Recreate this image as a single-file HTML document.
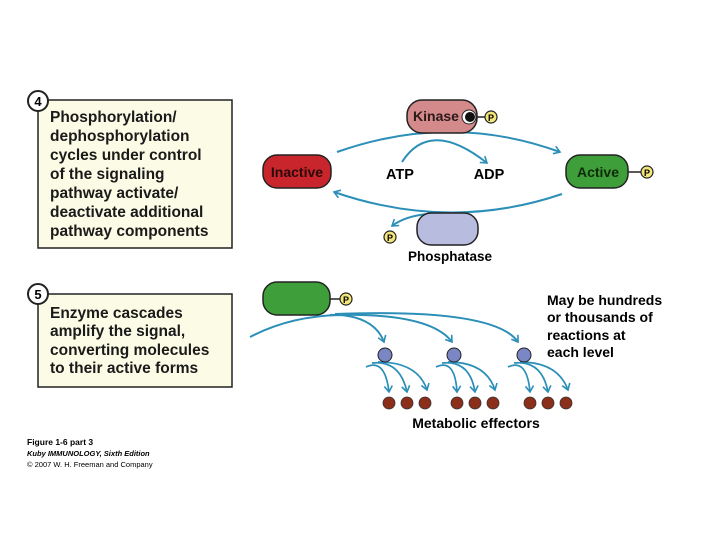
<!DOCTYPE html>
<html><head><style>
body{margin:0;background:#fff}
svg{display:block}
text{font-family:"Liberation Sans",sans-serif}
</style></head><body>
<svg width="720" height="540" viewBox="0 0 720 540">
<defs>
<marker id="ah" markerWidth="10" markerHeight="10" refX="7" refY="5" orient="auto" markerUnits="userSpaceOnUse">
<path d="M1,1 L7,5 L1,9" fill="none" stroke="#2b8fb8" stroke-width="1.6"/>
</marker>
</defs>
<!-- Box 4 -->
<rect x="38" y="100" width="194" height="148" fill="#fcfbe6" stroke="#222" stroke-width="1.5"/>
<circle cx="38" cy="101" r="10" fill="#fff" stroke="#222" stroke-width="2"/>
<text x="38" y="106" font-size="13" font-weight="bold" text-anchor="middle">4</text>
<g font-size="15.5" font-weight="bold" fill="#1a1a1a">
<text x="50" y="122">Phosphorylation/</text>
<text x="50" y="141">dephosphorylation</text>
<text x="50" y="160">cycles under control</text>
<text x="50" y="179">of the signaling</text>
<text x="50" y="198">pathway activate/</text>
<text x="50" y="217">deactivate additional</text>
<text x="50" y="236">pathway components</text>
</g>
<!-- Box 5 -->
<rect x="38" y="294" width="194" height="93" fill="#fcfbe6" stroke="#222" stroke-width="1.5"/>
<circle cx="38" cy="294" r="10" fill="#fff" stroke="#222" stroke-width="2"/>
<text x="38" y="299" font-size="13" font-weight="bold" text-anchor="middle">5</text>
<g font-size="15.5" font-weight="bold" fill="#1a1a1a">
<text x="50" y="318">Enzyme cascades</text>
<text x="50" y="336">amplify the signal,</text>
<text x="50" y="355">converting molecules</text>
<text x="50" y="373">to their active forms</text>
</g>
<!-- arcs top -->
<g fill="none" stroke="#2b8fb8" stroke-width="2">
<path d="M337,152 Q450,112 560,152" marker-end="url(#ah)"/>
<path d="M402,162 Q430,118 487,163" marker-end="url(#ah)"/>
<path d="M562,194 Q450,232 334,192" marker-end="url(#ah)"/>
<path d="M428,214 Q405,216 392,226" marker-end="url(#ah)"/>
</g>
<!-- Kinase -->
<rect x="407" y="100" width="70" height="33" rx="15" fill="#d4898b" stroke="#222" stroke-width="1.5"/>
<text x="436" y="121" font-size="14" font-weight="bold" text-anchor="middle" fill="#2a1a1a">Kinase</text>
<line x1="470" y1="117" x2="487" y2="117" stroke="#222" stroke-width="1.5"/>
<circle cx="469" cy="117" r="7" fill="#fff" stroke="#222" stroke-width="1"/>
<circle cx="470" cy="117" r="5" fill="#111"/>
<circle cx="491" cy="117" r="6" fill="#f5e67a" stroke="#222" stroke-width="1.2"/>
<text x="491" y="121" font-size="9" font-weight="bold" text-anchor="middle">P</text>
<!-- Inactive -->
<rect x="263" y="155" width="68" height="33" rx="14" fill="#c8262c" stroke="#222" stroke-width="1.5"/>
<text x="297" y="177" font-size="14" font-weight="bold" text-anchor="middle" fill="#2a0a0a">Inactive</text>
<text x="400" y="179" font-size="14.5" font-weight="bold" text-anchor="middle">ATP</text>
<text x="489" y="179" font-size="14.5" font-weight="bold" text-anchor="middle">ADP</text>
<!-- Active -->
<rect x="566" y="155" width="62" height="33" rx="14" fill="#3e9f3a" stroke="#222" stroke-width="1.5"/>
<text x="598" y="177" font-size="14" font-weight="bold" text-anchor="middle" fill="#0f2a0a">Active</text>
<line x1="628" y1="172" x2="642" y2="172" stroke="#222" stroke-width="1.5"/>
<circle cx="647" cy="172" r="6" fill="#f5e67a" stroke="#222" stroke-width="1.2"/>
<text x="647" y="176" font-size="9" font-weight="bold" text-anchor="middle">P</text>
<!-- Phosphatase -->
<rect x="417" y="213" width="61" height="32" rx="14" fill="#b8bde0" stroke="#222" stroke-width="1.5"/>
<text x="450" y="261" font-size="13.5" font-weight="bold" text-anchor="middle">Phosphatase</text>
<circle cx="390" cy="237" r="6" fill="#f5e67a" stroke="#222" stroke-width="1.2"/>
<text x="390" y="241" font-size="9" font-weight="bold" text-anchor="middle">P</text>
<!-- Lower cascade -->
<g fill="none" stroke="#2b8fb8" stroke-width="2">
<path d="M250,337 Q290,316 340,315 Q375,318 384,342" marker-end="url(#ah)"/>
<path d="M330,315 Q430,312 452,342" marker-end="url(#ah)"/>
<path d="M335,314 Q495,308 518,342" marker-end="url(#ah)"/>
</g>
<rect x="263" y="282" width="67" height="33" rx="14" fill="#3e9f3a" stroke="#222" stroke-width="1.5"/>
<line x1="330" y1="299" x2="341" y2="299" stroke="#222" stroke-width="1.5"/>
<circle cx="346" cy="299" r="6" fill="#f5e67a" stroke="#222" stroke-width="1.2"/>
<text x="346" y="303" font-size="9" font-weight="bold" text-anchor="middle">P</text>
<g fill="none" stroke="#2b8fb8" stroke-width="1.7">
<path d="M366,367 Q385,358 389,392" marker-end="url(#ah)"/>
<path d="M372,363 Q400,360 407,392" marker-end="url(#ah)"/>
<path d="M378,362 Q418,362 427,390" marker-end="url(#ah)"/>
<path d="M436,367 Q455,358 457,392" marker-end="url(#ah)"/>
<path d="M442,363 Q470,360 475,392" marker-end="url(#ah)"/>
<path d="M448,362 Q486,362 495,390" marker-end="url(#ah)"/>
<path d="M508,367 Q527,358 530,392" marker-end="url(#ah)"/>
<path d="M514,363 Q542,360 548,392" marker-end="url(#ah)"/>
<path d="M520,362 Q558,362 568,390" marker-end="url(#ah)"/>
</g>
<g fill="#7b86c4" stroke="#222" stroke-width="1">
<circle cx="385" cy="355" r="7"/><circle cx="454" cy="355" r="7"/><circle cx="524" cy="355" r="7"/>
</g>
<g fill="#8b2e1a" stroke="#333" stroke-width="0.8">
<circle cx="389" cy="403" r="6"/><circle cx="407" cy="403" r="6"/><circle cx="425" cy="403" r="6"/>
<circle cx="457" cy="403" r="6"/><circle cx="475" cy="403" r="6"/><circle cx="493" cy="403" r="6"/>
<circle cx="530" cy="403" r="6"/><circle cx="548" cy="403" r="6"/><circle cx="566" cy="403" r="6"/>
</g>
<text x="476" y="428" font-size="14" font-weight="bold" text-anchor="middle">Metabolic effectors</text>
<g font-size="14" font-weight="bold">
<text x="547" y="305">May be hundreds</text>
<text x="547" y="322">or thousands of</text>
<text x="547" y="340">reactions at</text>
<text x="547" y="357">each level</text>
</g>
<!-- caption -->
<text x="27" y="445" font-size="8.5" font-weight="bold">Figure 1-6 part 3</text>
<text x="27" y="456" font-size="7.5" font-weight="bold" font-style="italic">Kuby IMMUNOLOGY, Sixth Edition</text>
<text x="27" y="467" font-size="7.5">© 2007 W. H. Freeman and Company</text>
</svg>
</body></html>
